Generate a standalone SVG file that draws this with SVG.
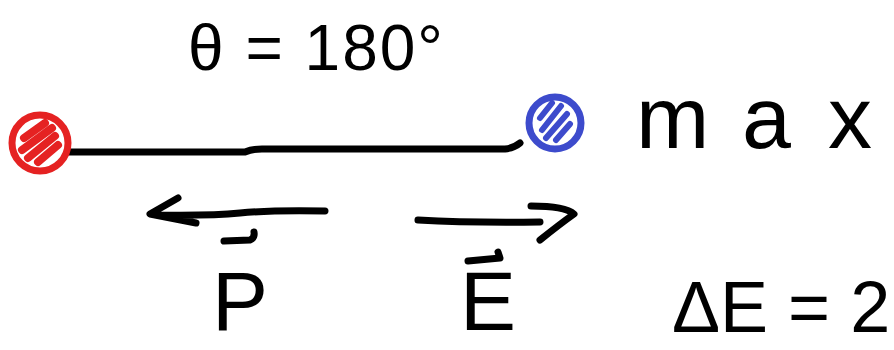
<svg xmlns="http://www.w3.org/2000/svg" width="894" height="350" viewBox="0 0 894 350">
<style>
.ink{fill:none;stroke:#000;stroke-width:7;stroke-linecap:round;stroke-linejoin:round}
.t{font-family:"Liberation Sans",Arial,sans-serif;fill:#000}
</style>
<rect width="894" height="350" fill="#fff"/>
<g id="angle-label"><text class="t" x="188" y="70" font-size="64" letter-spacing="2">θ = 180°</text></g>
<g id="connectors">
<path class="ink" d="M68,152 L245,152 Q252,149 262,149 L505,149 Q514,148 520,143"/>
<path class="ink" d="M325,211 Q270,210 240,213 Q210,216 155,215 M178,198 L150,214 L196,223"/>
<path class="ink" d="M418,220 Q470,223 540,222 M531,206 Q565,206 574,214 Q560,224 540,240"/>
</g>
<g id="negative-charge"><circle cx="40" cy="143" r="28" fill="#fff" stroke="#e52222" stroke-width="7"/><path d="M24,138 L45,123 M22,150 L52,128 M28,158 L55,136 M38,162 L58,145" stroke="#e52222" stroke-width="8" stroke-linecap="round"/></g>
<g id="positive-charge"><circle cx="555" cy="123" r="26" fill="#fff" stroke="#3d4bcc" stroke-width="7"/><path d="M540,118 L552,103 M542,130 L561,106 M546,138 L567,114 M556,140 L570,124" stroke="#3d4bcc" stroke-width="6" stroke-linecap="round"/></g>
<g id="max-label"><text class="t" x="636 742 828" y="148" font-size="88">max</text></g>
<g id="p-label"><path class="ink" d="M224,241 L250,240 Q255,238 254,232"/><text class="t" x="212" y="330" font-size="84">P</text></g>
<g id="e-label"><path class="ink" d="M468,261 L500,258 L498,252"/><text class="t" x="460" y="330" font-size="84">E</text></g>
<g id="delta-label"><text class="t" x="672" y="332" font-size="72">ΔE = 2</text></g>
</svg>
